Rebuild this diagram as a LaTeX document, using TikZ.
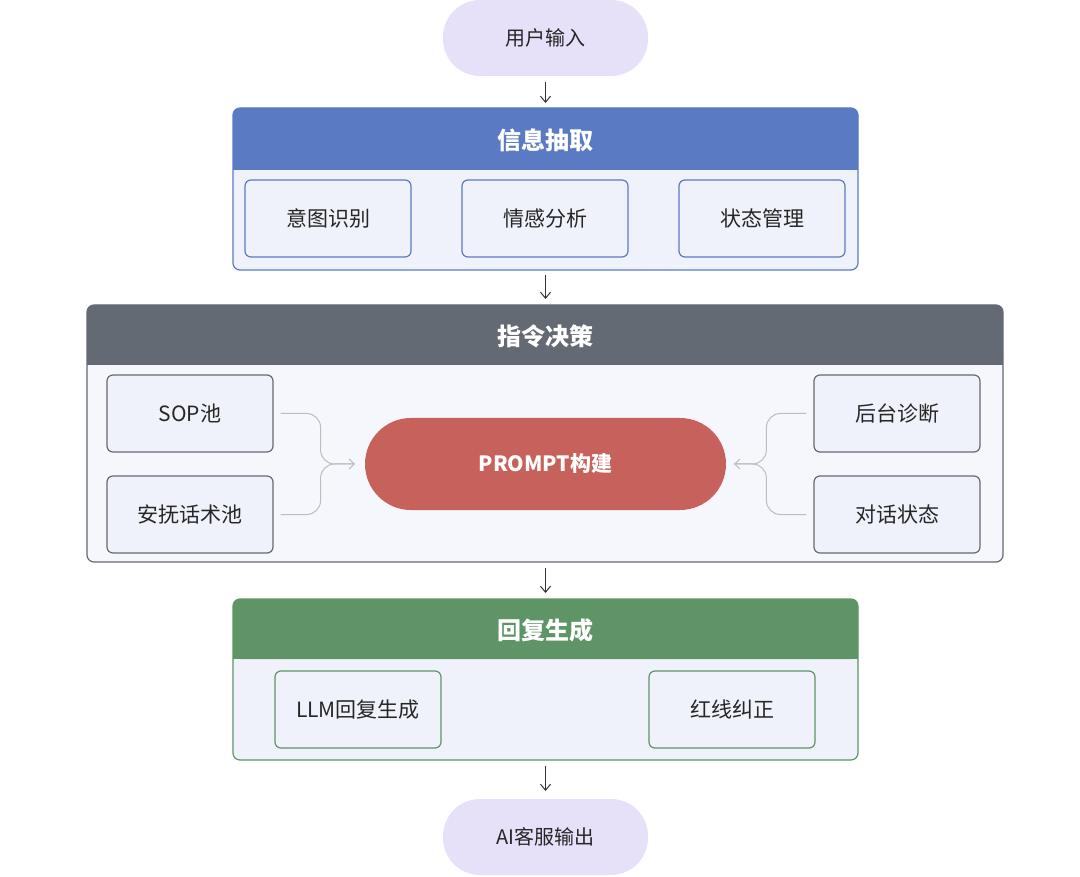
\documentclass[tikz,border=0pt]{standalone}
\usepackage{fontspec}
\setmainfont{Noto Sans CJK SC}
\usetikzlibrary{arrows.meta}
\definecolor{pill}{HTML}{E6E0F8}
\definecolor{blueh}{HTML}{5A7BC4}
\definecolor{grayh}{HTML}{646A73}
\definecolor{greenh}{HTML}{5E9466}
\definecolor{redp}{HTML}{C6625B}
\definecolor{bodyl}{HTML}{EFF2FA}
\definecolor{conn}{HTML}{BDBDBD}
\begin{document}
\begin{tikzpicture}[x=1pt,y=-1pt,
  pillS/.style={fill=pill,rounded corners=37,minimum width=205,minimum height=76,font=\fontsize{20}{24}\selectfont,text=black!85},
  box/.style={draw=#1,line width=1.2,fill=bodyl,rounded corners=6,minimum width=166,minimum height=77,font=\fontsize{21}{25}\selectfont,text=black!85},
  hdr/.style={font=\bfseries\fontsize{24}{28}\selectfont,text=white},
  arr/.style={-{Straight Barb[length=6,width=10]},line width=1,black!80},
  cn/.style={conn,line width=1,rounded corners=14}]
\useasboundingbox (0,0) rectangle (1080,877);
% top
\node[pillS] (in) at (545.5,38) {用户输入};
% group 1
\draw[blueh,line width=1.2,fill=bodyl,rounded corners=7] (233,108) rectangle (858,270);
\fill[blueh,rounded corners=7] (233,108) rectangle (858,170);
\fill[blueh] (233,150) rectangle (858,170);
\node[hdr] (g1) at (545.5,140) {信息抽取};
\node[box=blueh] (a1) at (328,218.5) {意图识别};
\node[box=blueh] (a2) at (545,218.5) {情感分析};
\node[box=blueh] (a3) at (762,218.5) {状态管理};
% group 2
\draw[grayh,line width=1.2,fill=bodyl!60!white,rounded corners=7] (87,305) rectangle (1003,562);
\fill[grayh,rounded corners=7] (87,305) rectangle (1003,365);
\fill[grayh] (87,345) rectangle (1003,365);
\node[hdr] (g2) at (545.5,336) {指令决策};
\node[box=grayh] (sop) at (190,413.5) {SOP池};
\node[box=grayh] (af) at (190,514.5) {安抚话术池};
\node[box=grayh] (ht) at (897,413.5) {后台诊断};
\node[box=grayh] (dh) at (897,514.5) {对话状态};
\node[fill=redp,rounded corners=46,minimum width=361,minimum height=92,font=\bfseries\fontsize{21}{25}\selectfont,text=white] (pr) at (545.5,464) {PROMPT构建};
\draw[cn] ([xshift=7]sop.east) -- ++(40,0) |- ([xshift=-10]pr.west);
\draw[cn,-{Straight Barb[length=5,width=10]}] ([xshift=7]af.east) -- ++(40,0) |- ([xshift=-10]pr.west);
\draw[cn] ([xshift=-7]ht.west) -- ++(-40,0) |- ([xshift=8]pr.east);
\draw[cn,-{Straight Barb[length=5,width=10]}] ([xshift=-7]dh.west) -- ++(-40,0) |- ([xshift=8]pr.east);
% group 3
\draw[greenh,line width=1.2,fill=bodyl,rounded corners=7] (233,599) rectangle (858,760);
\fill[greenh,rounded corners=7] (233,599) rectangle (858,659);
\fill[greenh] (233,640) rectangle (858,659);
\node[hdr] (g3) at (545.5,630) {回复生成};
\node[box=greenh] (l1) at (358,709.5) {LLM回复生成};
\node[box=greenh] (l2) at (732,709.5) {红线纠正};
% bottom
\node[pillS] (out) at (545.5,837) {AI客服输出};
% arrows
\coordinate (t1) at (545.5,108); \coordinate (t2) at (545.5,305);
\coordinate (t3) at (545.5,599); \coordinate (t4) at (545.5,797);
\coordinate (b1) at (545.5,270); \coordinate (b2) at (545.5,562); \coordinate (b3) at (545.5,760);
\draw[arr,shorten <=6,shorten >=5] (in.south) -- (t1);
\draw[arr,shorten <=5,shorten >=6] (b1) -- (t2);
\draw[arr,shorten <=6,shorten >=6] (b2) -- (t3);
\draw[arr,shorten <=6,shorten >=6] (b3) -- (t4);
\end{tikzpicture}
\end{document}
